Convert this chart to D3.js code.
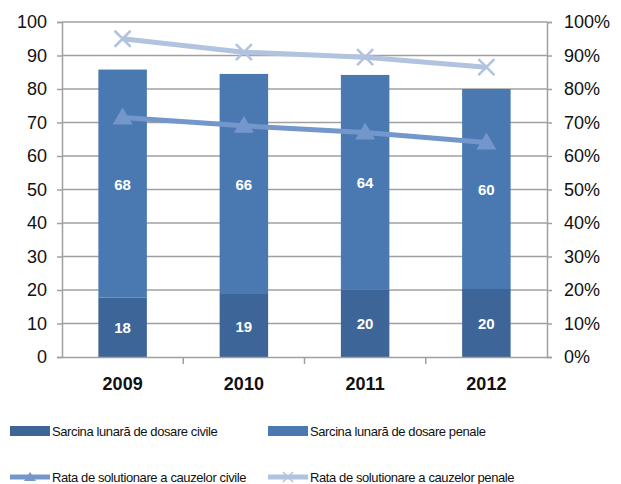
<!DOCTYPE html>
<html>
<head>
<meta charset="utf-8">
<script src="https://cdn.jsdelivr.net/npm/d3@7"></script>
<style>
  body { margin: 0; background: #fff; }
  svg { display: block; }
</style>
</head>
<body>
<script>
const years = ['2009', '2010', '2011', '2012'];
const civile = [17.7, 18.8, 20.2, 20.3];
const penale = [68.1, 65.7, 64.0, 59.7];
const rataCivile = [0.715, 0.69, 0.67, 0.64];
const rataPenale = [0.95, 0.91, 0.895, 0.865];
const leftTicks = [0, 10, 20, 30, 40, 50, 60, 70, 80, 90, 100];
const rightTicks = [0, .1, .2, .3, .4, .5, .6, .7, .8, .9, 1];
const legendNames = ['Sarcina lunară de dosare civile', 'Sarcina lunară de dosare penale',
  'Rata de solutionare a cauzelor civile', 'Rata de solutionare a cauzelor penale'];

const W = 621, H = 484;
const margin = { l: 62, r: 74, t: 22, b: 127 };
const w = W - margin.l - margin.r;
const h = H - margin.t - margin.b;

const colCiv = '#3d6597', colPen = '#4a79b2', colRC = '#7497cb', colRP = '#b2c3df';
const axisFont = '"Liberation Sans", Arial, sans-serif';

const svg = d3.select('body').append('svg')
  .attr('width', W).attr('height', H);

const g = svg.append('g').attr('transform', `translate(${margin.l},${margin.t})`);

const x = d3.scaleBand().domain(years).range([0, w]).paddingInner(0.6).paddingOuter(0.3);
const xc = d3.scaleBand().domain(years).range([0, w]);
const y = d3.scaleLinear().domain([0, 100]).range([h, 0]);
const y2 = d3.scaleLinear().domain([0, 1]).range([h, 0]);

// gridlines
g.selectAll('.grid').data(leftTicks.slice(1)).enter().append('line')
  .attr('x1', 0).attr('x2', w)
  .attr('y1', d => y(d)).attr('y2', d => y(d))
  .attr('stroke', '#a0a0a0').attr('stroke-width', 1.5);

// bars
const bars = g.selectAll('.bar').data(years).enter().append('g');
bars.append('rect')
  .attr('x', d => x(d)).attr('width', x.bandwidth())
  .attr('y', (d, i) => y(civile[i])).attr('height', (d, i) => y(0) - y(civile[i]))
  .attr('fill', colCiv);
bars.append('rect')
  .attr('x', d => x(d)).attr('width', x.bandwidth())
  .attr('y', (d, i) => y(civile[i] + penale[i])).attr('height', (d, i) => y(0) - y(penale[i]))
  .attr('fill', colPen);
bars.append('text')
  .attr('x', d => x(d) + x.bandwidth() / 2)
  .attr('y', (d, i) => y(civile[i] / 2) + 6)
  .attr('text-anchor', 'middle').attr('fill', '#fff')
  .style('font', `bold 15px ${axisFont}`)
  .text((d, i) => Math.round(civile[i]));
bars.append('text')
  .attr('x', d => x(d) + x.bandwidth() / 2)
  .attr('y', (d, i) => y(civile[i] + penale[i] / 2) + 6)
  .attr('text-anchor', 'middle').attr('fill', '#fff')
  .style('font', `bold 15px ${axisFont}`)
  .text((d, i) => Math.round(penale[i]));

// axes
const yAxis = g.append('g').call(d3.axisLeft(y).tickValues(leftTicks).tickSize(5).tickPadding(10));
const y2Axis = g.append('g').attr('transform', `translate(${w},0)`)
  .call(d3.axisRight(y2).tickValues(rightTicks).tickSize(5).tickPadding(12).tickFormat(d3.format('.0%')));
const xAxis = g.append('g').attr('transform', `translate(0,${h})`)
  .call(d3.axisBottom(xc).tickSize(0).tickPadding(20));
[yAxis, y2Axis, xAxis].forEach(a => {
  a.select('.domain').attr('stroke', '#a0a0a0').attr('stroke-width', 1.5);
  a.selectAll('.tick line').attr('stroke', '#a0a0a0').attr('stroke-width', 1.5);
  a.selectAll('text').attr('fill', '#111').style('font', `18px ${axisFont}`);
});
xAxis.selectAll('text').style('font', `bold 18px ${axisFont}`);
// x category separators
g.selectAll('.sep').data(years.slice(1)).enter().append('line')
  .attr('x1', d => xc(d)).attr('x2', d => xc(d))
  .attr('y1', h).attr('y2', h + 7)
  .attr('stroke', '#a0a0a0').attr('stroke-width', 1.5);

// lines
const cx = d => x(d) + x.bandwidth() / 2;
const line = vals => d3.line().x(d => cx(d)).y((d, i) => y2(vals[i]))(years);

g.append('path').attr('d', line(rataPenale)).attr('fill', 'none')
  .attr('stroke', colRP).attr('stroke-width', 5);
g.selectAll('.xm').data(years).enter().append('path')
  .attr('transform', (d, i) => `translate(${cx(d)},${y2(rataPenale[i])})`)
  .attr('d', 'M-8,-8L8,8M-8,8L8,-8')
  .attr('stroke', colRP).attr('stroke-width', 2.5);

g.append('path').attr('d', line(rataCivile)).attr('fill', 'none')
  .attr('stroke', colRC).attr('stroke-width', 5);
g.selectAll('.tm').data(years).enter().append('path')
  .attr('transform', (d, i) => `translate(${cx(d)},${y2(rataCivile[i])})`)
  .attr('d', 'M0,-10L10,7L-10,7Z')
  .attr('fill', colRC);

// legend
const lg = svg.append('g');
const pos = [[10, 431], [268, 431], [10, 477], [268, 477]];
legendNames.forEach((name, i) => {
  const [lx, ly] = pos[i];
  if (i < 2) {
    lg.append('rect').attr('x', lx).attr('y', ly - 5).attr('width', 40).attr('height', 10)
      .attr('fill', i === 0 ? colCiv : colPen);
  } else {
    const c = i === 2 ? colRC : colRP;
    lg.append('line').attr('x1', lx).attr('x2', lx + 40).attr('y1', ly).attr('y2', ly)
      .attr('stroke', c).attr('stroke-width', 5);
    if (i === 2) {
      lg.append('path').attr('transform', `translate(${lx + 20},${ly})`)
        .attr('d', 'M0,-5L6,4L-6,4Z').attr('fill', c);
    } else {
      lg.append('path').attr('transform', `translate(${lx + 20},${ly})`)
        .attr('d', 'M-5,-5L5,5M-5,5L5,-5').attr('stroke', c).attr('stroke-width', 1.5);
    }
  }
  lg.append('text').attr('x', lx + 42).attr('y', ly + 5)
    .attr('fill', '#111').style('font', `13px ${axisFont}`)
    .style('letter-spacing', '-0.4px')
    .text(name);
});
</script>
</body>
</html>
